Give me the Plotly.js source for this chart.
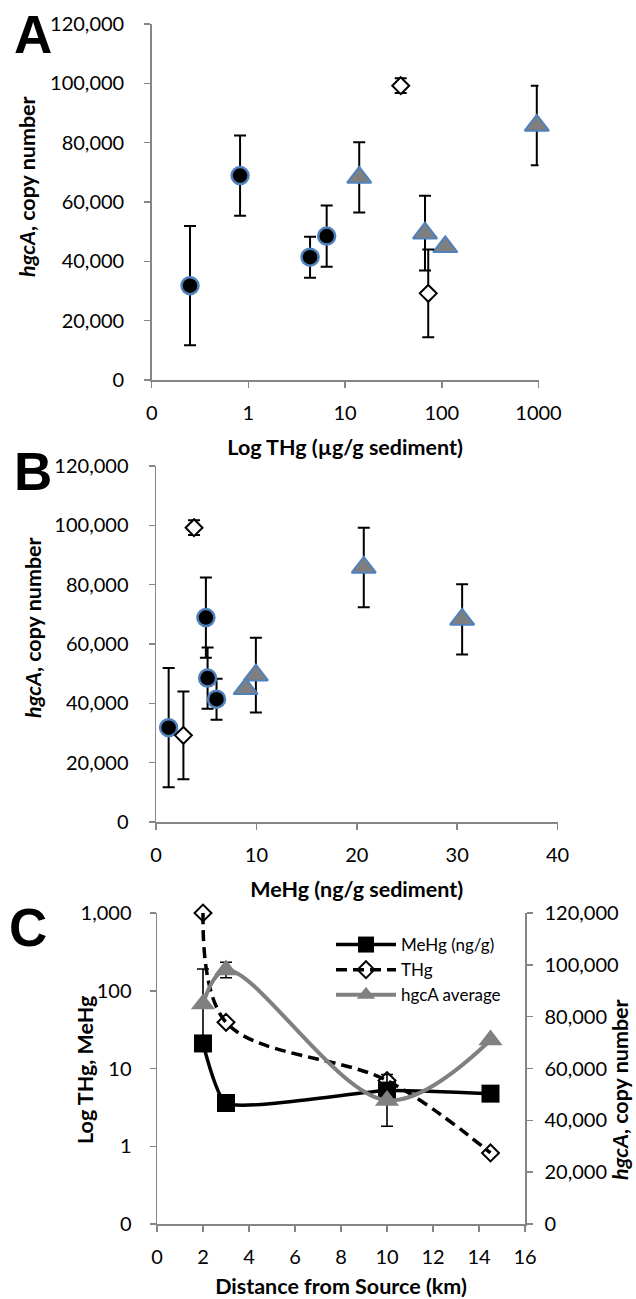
<!DOCTYPE html>
<html>
<head>
<meta charset="utf-8">
<script src="https://cdn.plot.ly/plotly-3.0.1.min.js"></script>
<style>
html,body{margin:0;padding:0;background:#ffffff;}
#chart{width:636px;height:1299px;}
</style>
</head>
<body>
<div id="chart"></div>
<script>
// ---------- Panels A & B: individual samples (three site groups) ----------
// circles
const circleTHg   = [0.249, 0.82, 4.34, 6.45];      // µg/g
const circleMeHg  = [1.26, 4.97, 6.03, 5.14];       // ng/g
const circleHgcA  = [31800, 68900, 41400, 48500];   // copy number
const circleErr   = [20100, 13500, 6900, 10300];
// triangles
const triTHg      = [14.0, 67.0, 108.6, 960];
const triMeHg     = [30.5, 9.95, 8.93, 20.7];
const triHgcA     = [68300, 49500, 44900, 85800];
const triErr      = [11800, 12600, 0, 13400];
// diamonds
const diaTHg      = [37.6, 72.4];
const diaMeHg     = [3.79, 2.73];
const diaHgcA     = [99200, 29200];
const diaErr      = [2500, 14800];

// ---------- Panel C: site averages vs distance ----------
const distanceKm  = [2, 3, 10, 14.5];
const siteMeHg    = [21, 3.6, 5.2, 4.75];
const siteTHg     = [1000, 39.3, 7.0, 0.82];
const siteHgcA    = [84900, 98000, 47700, 71000];
const siteHgcAErr = [13500, 3000, 10000, 0];

// ---------- tick labels ----------
const logTickVals   = [0.1, 1, 10, 100, 1000];
const aXTickText    = ['0', '1', '10', '100', '1000'];
const cLeftTickText = ['0', '1', '10', '100', '1,000'];

// ---------- styling helpers ----------
const W = 636, H = 1299;
const fx = p => p / W;
const fy = p => 1 - p / H;
const BLUE = '#4F81BD', GRAY = '#7F7F7F', AXIS = '#868686';
const FONT = 'Lato, "Open Sans", sans-serif';

function err(arr, thick) {
  return {type: 'data', array: arr, visible: true, color: '#000000', thickness: thick, width: 6};
}
const circleMarker = {symbol: 'circle', size: 17, color: '#000000', line: {color: BLUE, width: 2.5}};
const triMarker    = {symbol: 'triangle-up', size: 21, color: GRAY, line: {color: BLUE, width: 2}};
const diaMarker    = {symbol: 'diamond', size: 13, color: '#ffffff', line: {color: '#000000', width: 2}};

const data = [
  // Panel A
  {x: circleTHg, y: circleHgcA, xaxis: 'x', yaxis: 'y', mode: 'markers', marker: circleMarker, error_y: err(circleErr, 2), showlegend: false, name: 'circles', cliponaxis: false},
  {x: triTHg, y: triHgcA, xaxis: 'x', yaxis: 'y', mode: 'markers', marker: triMarker, error_y: err(triErr, 2), showlegend: false, name: 'triangles', cliponaxis: false},
  {x: diaTHg, y: diaHgcA, xaxis: 'x', yaxis: 'y', mode: 'markers', marker: diaMarker, error_y: err(diaErr, 2), showlegend: false, name: 'diamonds', cliponaxis: false},
  // Panel B
  {x: circleMeHg, y: circleHgcA, xaxis: 'x2', yaxis: 'y2', mode: 'markers', marker: circleMarker, error_y: err(circleErr, 2), showlegend: false, name: 'circles', cliponaxis: false},
  {x: triMeHg, y: triHgcA, xaxis: 'x2', yaxis: 'y2', mode: 'markers', marker: triMarker, error_y: err(triErr, 2), showlegend: false, name: 'triangles', cliponaxis: false},
  {x: diaMeHg, y: diaHgcA, xaxis: 'x2', yaxis: 'y2', mode: 'markers', marker: diaMarker, error_y: err(diaErr, 2), showlegend: false, name: 'diamonds', cliponaxis: false},
  // Panel C
  {x: distanceKm, y: siteMeHg, xaxis: 'x3', yaxis: 'y3', mode: 'lines+markers', name: 'MeHg (ng/g)', cliponaxis: false,
   line: {color: '#000000', width: 3.5, shape: 'spline', smoothing: 0.5},
   marker: {symbol: 'square', size: 18, color: '#000000'}},
  {x: distanceKm, y: siteTHg, xaxis: 'x3', yaxis: 'y3', mode: 'lines+markers', name: 'THg', cliponaxis: false,
   line: {color: '#000000', width: 3.5, dash: '11px,6px', shape: 'spline', smoothing: 1},
   marker: {symbol: 'diamond', size: 13, color: 'rgba(255,255,255,0)', line: {color: '#000000', width: 2}}},
  {x: distanceKm, y: siteHgcA, xaxis: 'x3', yaxis: 'y4', mode: 'lines+markers', name: 'hgcA average', cliponaxis: false,
   line: {color: '#808080', width: 4, shape: 'spline', smoothing: 1},
   marker: {symbol: 'triangle-up', size: 21, color: '#808080'},
   error_y: err(siteHgcAErr, 1.6)}
];

const tickfont = {family: FONT, size: 20, color: '#000000'};
const titlefont = {family: FONT, size: 21.5, color: '#000000', weight: 'bold'};
function axisBase(extra) {
  return Object.assign({
    showline: true, linecolor: AXIS, linewidth: 1.5,
    ticks: 'outside', ticklen: 6, tickwidth: 1.5, tickcolor: AXIS,
    showgrid: false, zeroline: false, tickfont: tickfont,
    ticklabelstandoff: 8, fixedrange: true
  }, extra);
}

const layout = {
  width: W, height: H,
  margin: {l: 0, r: 0, t: 0, b: 0},
  paper_bgcolor: '#ffffff', plot_bgcolor: 'rgba(0,0,0,0)',
  font: {family: FONT, color: '#000000'},
  showlegend: true,
  // Panel A
  xaxis: axisBase({type: 'log', range: [-1, 3], domain: [fx(151.7), fx(538.5)], anchor: 'y',
    tickvals: logTickVals, ticktext: aXTickText,
    title: {text: 'Log THg (µg/g sediment)', font: titlefont}}),
  yaxis: axisBase({range: [0, 120000], dtick: 20000, tickformat: ',', domain: [fy(380), fy(24)], anchor: 'x',
    ticklabelstandoff: 16}),
  // Panel B
  xaxis2: axisBase({range: [0, 40], dtick: 10, domain: [fx(156), fx(557.5)], anchor: 'y2',
    title: {text: 'MeHg (ng/g sediment)', font: titlefont}}),
  yaxis2: axisBase({range: [0, 120000], dtick: 20000, tickformat: ',', domain: [fy(822), fy(466)], anchor: 'x2',
    ticklabelstandoff: 16}),
  // Panel C
  xaxis3: axisBase({range: [0, 16], dtick: 2, domain: [fx(157), fx(525)], anchor: 'y3',
    title: {text: 'Distance from Source (km)', font: titlefont}}),
  yaxis3: axisBase({type: 'log', range: [-1, 3], domain: [fy(1224), fy(913)], anchor: 'x3',
    tickvals: logTickVals, ticktext: cLeftTickText, ticklabelstandoff: 14}),
  yaxis4: axisBase({range: [0, 120000], dtick: 20000, tickformat: ',', overlaying: 'y3', side: 'right', anchor: 'x3'}),
  legend: {x: fx(331), y: fy(927), xanchor: 'left', yanchor: 'top', bgcolor: 'rgba(0,0,0,0)',
    font: {family: FONT, size: 17, color: '#000000'}, itemwidth: 60, tracegroupgap: 0},
  annotations: [
    {text: 'A', x: fx(33), y: fy(34), xref: 'paper', yref: 'paper', showarrow: false, xanchor: 'center', yanchor: 'middle',
     font: {family: '"Liberation Sans", Arial, sans-serif', size: 53, weight: 'bold', color: '#000000'}},
    {text: 'B', x: fx(33), y: fy(471), xref: 'paper', yref: 'paper', showarrow: false, xanchor: 'center', yanchor: 'middle',
     font: {family: '"Liberation Sans", Arial, sans-serif', size: 53, weight: 'bold', color: '#000000'}},
    {text: 'C', x: fx(28), y: fy(927), xref: 'paper', yref: 'paper', showarrow: false, xanchor: 'center', yanchor: 'middle',
     font: {family: '"Liberation Sans", Arial, sans-serif', size: 53, weight: 'bold', color: '#000000'}},
    {text: '<i>hgcA</i>, copy number', textangle: -90, x: fx(27), y: fy(187), xref: 'paper', yref: 'paper', showarrow: false,
     xanchor: 'center', yanchor: 'middle', font: titlefont},
    {text: '<i>hgcA</i>, copy number', textangle: -90, x: fx(33), y: fy(628), xref: 'paper', yref: 'paper', showarrow: false,
     xanchor: 'center', yanchor: 'middle', font: titlefont},
    {text: 'Log THg, MeHg', textangle: -90, x: fx(85), y: fy(1070), xref: 'paper', yref: 'paper', showarrow: false,
     xanchor: 'center', yanchor: 'middle', font: titlefont},
    {text: '<i>hgcA</i>, copy number', textangle: -90, x: fx(620), y: fy(1090), xref: 'paper', yref: 'paper', showarrow: false,
     xanchor: 'center', yanchor: 'middle', font: titlefont}
  ]
};

Plotly.newPlot('chart', data, layout, {staticPlot: true, displayModeBar: false});
</script>
</body>
</html>
